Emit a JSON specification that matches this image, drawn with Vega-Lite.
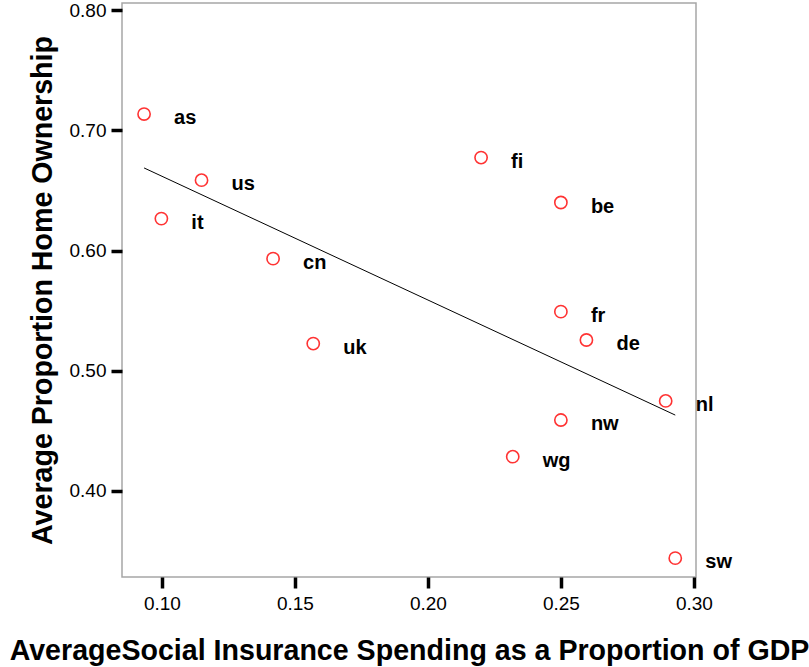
{
  "$schema": "https://vega.github.io/schema/vega-lite/v6.json",
  "autosize": "none",
  "width": 574,
  "height": 574,
  "padding": {"left": 122, "top": 3, "right": 113, "bottom": 90},
  "background": "white",
  "config": {
    "view": {"stroke": "#a6a6a6", "strokeWidth": 1.5},
    "font": "Liberation Sans",
    "axis": {
      "grid": false,
      "domain": false,
      "ticks": true,
      "tickColor": "black",
      "tickWidth": 3.5,
      "tickSize": 11,
      "labelFont": "Liberation Sans",
      "labelFontSize": 19,
      "labelColor": "black",
      "titleFont": "Liberation Sans",
      "titleFontSize": 28.6,
      "titleFontWeight": "bold",
      "titleColor": "black"
    }
  },
  "data": {
    "values": [
      {"country": "as", "spending": 0.0933, "ownership": 0.7136},
      {"country": "us", "spending": 0.1149, "ownership": 0.6586},
      {"country": "it", "spending": 0.0998, "ownership": 0.6266},
      {"country": "cn", "spending": 0.1418, "ownership": 0.5933},
      {"country": "uk", "spending": 0.1569, "ownership": 0.5226},
      {"country": "fi", "spending": 0.2200, "ownership": 0.6774},
      {"country": "be", "spending": 0.2500, "ownership": 0.6400},
      {"country": "fr", "spending": 0.2500, "ownership": 0.5492},
      {"country": "de", "spending": 0.2596, "ownership": 0.5256},
      {"country": "nl", "spending": 0.2894, "ownership": 0.4749},
      {"country": "nw", "spending": 0.2500, "ownership": 0.4590},
      {"country": "wg", "spending": 0.2319, "ownership": 0.4285},
      {"country": "sw", "spending": 0.2930, "ownership": 0.3441}
    ]
  },
  "encoding": {
    "x": {
      "field": "spending",
      "type": "quantitative",
      "scale": {"domain": [0.085, 0.3008], "nice": false, "zero": false},
      "axis": {
        "title": "AverageSocial Insurance Spending as a Proportion of GDP",
        "values": [0.10, 0.15, 0.20, 0.25, 0.30],
        "format": ".2f",
        "labelPadding": 6,
        "titlePadding": 23
      }
    },
    "y": {
      "field": "ownership",
      "type": "quantitative",
      "scale": {"domain": [0.3284, 0.806], "nice": false, "zero": false},
      "axis": {
        "title": "Average Proportion Home Ownership",
        "values": [0.40, 0.50, 0.60, 0.70, 0.80],
        "format": ".2f",
        "labelPadding": 5,
        "titlePadding": 12
      }
    }
  },
  "layer": [
    {
      "transform": [
        {"regression": "ownership", "on": "spending", "method": "linear"}
      ],
      "mark": {"type": "line", "color": "black", "strokeWidth": 1}
    },
    {
      "mark": {
        "type": "point",
        "shape": "circle",
        "filled": false,
        "stroke": "#ff3333",
        "strokeWidth": 1.6,
        "size": 150,
        "opacity": 1
      }
    },
    {
      "mark": {
        "type": "text",
        "align": "left",
        "baseline": "alphabetic",
        "dx": 30,
        "dy": 10,
        "fontSize": 20,
        "fontWeight": "bold",
        "color": "black"
      },
      "encoding": {"text": {"field": "country"}}
    }
  ]
}
